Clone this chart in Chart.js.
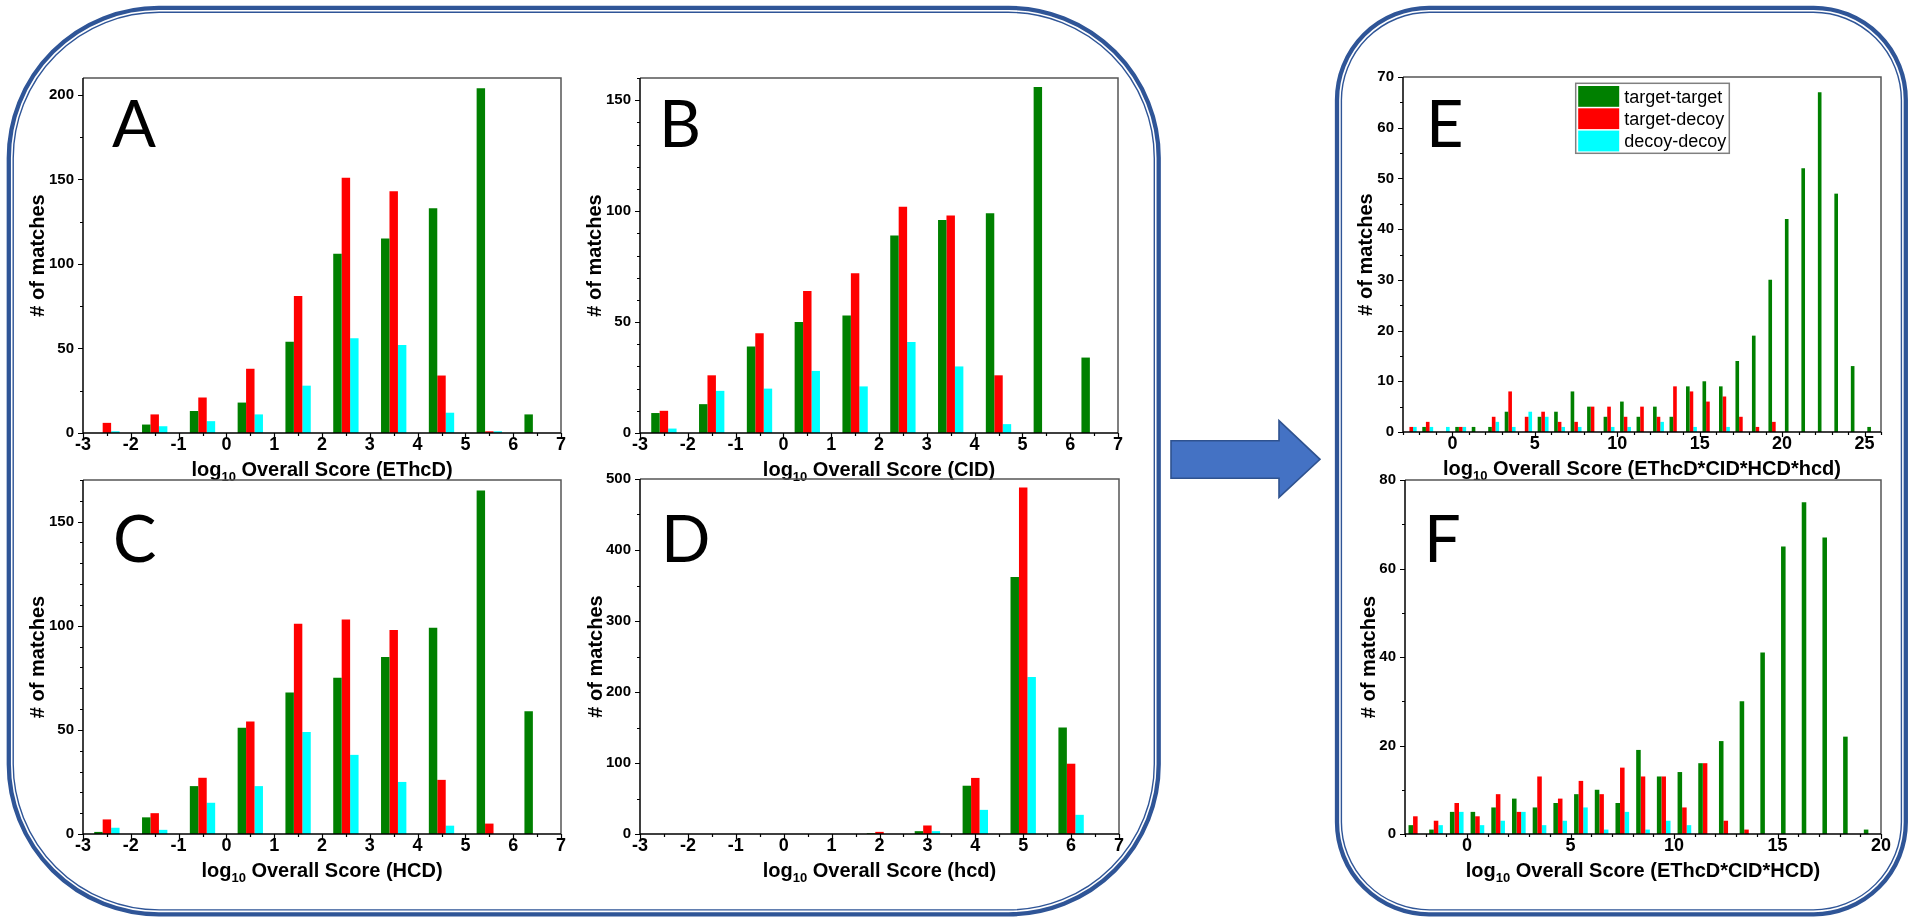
<!DOCTYPE html>
<html>
<head>
<meta charset="utf-8">
<title>Overall score histograms</title>
<script src="https://cdn.jsdelivr.net/npm/chart.js@4.4.0/dist/chart.umd.min.js"></script>
<style>
  html, body { margin: 0; padding: 0; background: #fff; }
  #page { position: relative; width: 1915px; height: 923px; overflow: hidden; }
  #page canvas { position: absolute; }
  #frames { position: absolute; left: 0; top: 0; }
</style>
</head>
<body>
<div id="page">
  <svg id="frames" width="1915" height="923">
    <g fill="none" stroke="#2F5597">
      <rect x="8.8" y="7.9" width="1149.9" height="906.4" rx="150" ry="150" stroke-width="4.3"/>
      <rect x="13.2" y="12.3" width="1141.1" height="897.6" rx="146" ry="146" stroke-width="1.4"/>
      <rect x="1337" y="7.9" width="568.8" height="906.4" rx="92" ry="92" stroke-width="4.3"/>
      <rect x="1341.4" y="12.3" width="560" height="897.6" rx="88" ry="88" stroke-width="1.4"/>
    </g>
    <polygon points="1171,440.7 1279,440.7 1279,420.7 1320,459.3 1279,497.3 1279,478.3 1171,478.3"
             fill="#4472C4" stroke="#2F528F" stroke-width="1.6"/>
  </svg>
</div>
<script>
/* ---------- data ---------- */
const seriesNames = ['target-target', 'target-decoy', 'decoy-decoy'];
const seriesColors = ['#008000', '#FF0000', '#00FFFF'];

// bin centres (log10 overall score)
const binsABC = [-2.5, -1.5, -0.5, 0.5, 1.5, 2.5, 3.5, 4.5, 5.5, 6.5];
const binsD = [2, 3, 4, 5, 6];
const binsE = [-2.5, -1.5, -0.5, 0.5, 1.5, 2.5, 3.5, 4.5, 5.5, 6.5, 7.5, 8.5, 9.5, 10.5, 11.5,
  12.5, 13.5, 14.5, 15.5, 16.5, 17.5, 18.5, 19.5, 20.5, 21.5, 22.5, 23.5, 24.5, 25.5];
const binsF = [-2.5, -1.5, -0.5, 0.5, 1.5, 2.5, 3.5, 4.5, 5.5, 6.5, 7.5, 8.5, 9.5, 10.5, 11.5,
  12.5, 13.5, 14.5, 15.5, 16.5, 17.5, 18.5, 19.5];

// A - EThcD
const aTT = [0, 5, 13, 18, 54, 106, 115, 133, 204, 11];
const aTD = [6, 11, 21, 38, 81, 151, 143, 34, 1, 0];
const aDD = [1, 4, 7, 11, 28, 56, 52, 12, 1, 0];
// B - CID
const bTT = [9, 13, 39, 50, 53, 89, 96, 99, 156, 34];
const bTD = [10, 26, 45, 64, 72, 102, 98, 26, 0, 0];
const bDD = [2, 19, 20, 28, 21, 41, 30, 4, 0, 0];
// C - HCD
const cTT = [1, 8, 23, 51, 68, 75, 85, 99, 165, 59];
const cTD = [7, 10, 27, 54, 101, 103, 98, 26, 5, 0];
const cDD = [3, 2, 15, 23, 49, 38, 25, 4, 0, 0];
// D - hcd
const dTT = [1, 4, 68, 362, 150];
const dTD = [3, 12, 79, 488, 99];
const dDD = [0, 4, 34, 221, 27];
// E - EThcD*CID*HCD*hcd
const eTT = [0, 1, 0, 1, 1, 1, 4, 0, 3, 4, 8, 5, 3, 6, 3, 5, 3, 9, 10, 9, 14, 19, 30, 42, 52, 67, 47, 13, 1];
const eTD = [1, 2, 0, 1, 0, 3, 8, 3, 4, 2, 2, 5, 5, 3, 5, 3, 9, 8, 6, 7, 3, 1, 2, 0, 0, 0, 0, 0, 0];
const eDD = [1, 1, 1, 1, 0, 2, 1, 4, 3, 1, 1, 0, 1, 1, 0, 2, 0, 1, 0, 1, 0, 0, 0, 0, 0, 0, 0, 0, 0];
// F - EThcD*CID*HCD
const fTT = [2, 1, 5, 5, 6, 8, 6, 7, 9, 10, 7, 19, 13, 14, 16, 21, 30, 41, 65, 75, 67, 22, 1];
const fTD = [4, 3, 7, 4, 9, 5, 13, 8, 12, 9, 15, 13, 13, 6, 16, 3, 1, 0, 0, 0, 0, 0, 0];
const fDD = [0, 2, 5, 2, 3, 5, 2, 3, 6, 1, 5, 1, 3, 2, 0, 0, 0, 0, 0, 0, 0, 0, 0];

// tick labels
const xTicksAD = [-3, -2, -1, 0, 1, 2, 3, 4, 5, 6, 7];
const xTicksE = [0, 5, 10, 15, 20, 25];
const xTicksF = [0, 5, 10, 15, 20];
const yTicksA = [0, 50, 100, 150, 200];
const yTicksB = [0, 50, 100, 150];
const yTicksC = [0, 50, 100, 150];
const yTicksD = [0, 100, 200, 300, 400, 500];
const yTicksE = [0, 10, 20, 30, 40, 50, 60, 70];
const yTicksF = [0, 20, 40, 60, 80];

/* ---------- layout ---------- */
const FONT = "'Liberation Sans', Arial, sans-serif";
const AXIS_W = 80, PAD_T = 20, PAD_R = 20, AXIS_H = 60;

const panels = [
  { id: 'A', bins: binsABC, vals: [aTT, aTD, aDD], xMin: -3, xMax: 7, yMax: 210, xTicks: xTicksAD, yTicks: yTicksA,
    xMinor: 0.5, yMinor: 25, label: 'EThcD', L: 83, R: 561, T: 78, B: 433, cat: 0.53, yOff: 46, lx: 112, ly: 146.7 },
  { id: 'B', bins: binsABC, vals: [bTT, bTD, bDD], xMin: -3, xMax: 7, yMax: 160, xTicks: xTicksAD, yTicks: yTicksB,
    xMinor: 0.5, yMinor: 10, label: 'CID', L: 640, R: 1118, T: 78, B: 433, cat: 0.53, yOff: 46.5, lx: 659, ly: 146.7 },
  { id: 'C', bins: binsABC, vals: [cTT, cTD, cDD], xMin: -3, xMax: 7, yMax: 170, xTicks: xTicksAD, yTicks: yTicksC,
    xMinor: 0.5, yMinor: 10, label: 'HCD', L: 83, R: 561, T: 480, B: 834, cat: 0.53, yOff: 46, lx: 113, ly: 561.7 },
  { id: 'D', bins: binsD, vals: [dTT, dTD, dDD], xMin: -3, xMax: 7, yMax: 500, xTicks: xTicksAD, yTicks: yTicksD,
    xMinor: 0.5, yMinor: 50, label: 'hcd', L: 640, R: 1119, T: 479, B: 834, cat: 0.53, yOff: 45, lx: 661, ly: 561.7 },
  { id: 'E', bins: binsE, vals: [eTT, eTD, eDD], xMin: -3, xMax: 26, yMax: 70, xTicks: xTicksE, yTicks: yTicksE,
    xMinor: 1, yMinor: 5, label: 'EThcD*CID*HCD*hcd', L: 1403, R: 1881, T: 77, B: 432, cat: 0.66, yOff: 38, lx: 1426, ly: 146.7,
    legend: true },
  { id: 'F', bins: binsF, vals: [fTT, fTD, fDD], xMin: -3, xMax: 20, yMax: 80, xTicks: xTicksF, yTicks: yTicksF,
    xMinor: 1, yMinor: 10, label: 'EThcD*CID*HCD', L: 1405, R: 1881, T: 480, B: 834, cat: 0.66, yOff: 37.5, lx: 1424, ly: 561.7 }
];

function tickList(min, max, step) {
  const n = Math.round((max - min) / step);
  const out = [];
  for (let i = 0; i <= n; i++) out.push(min + i * step);
  return out;
}

function makeDecor(p, cl, ct) {
  return {
    id: 'decor' + p.id,
    afterDatasetsDraw(chart) {
      const ctx = chart.ctx;
      const a = chart.chartArea;
      const xs = chart.scales.x, ys = chart.scales.y;
      ctx.save();

      // ticks (major + minor)
      ctx.strokeStyle = '#000';
      ctx.lineWidth = 1.2;
      ctx.beginPath();
      tickList(p.xMin, p.xMax, p.xMinor).forEach(v => {
        const x = Math.round(xs.getPixelForValue(v)) + 0.5;
        const major = p.xTicks.some(t => Math.abs(t - v) < 1e-6);
        ctx.moveTo(x, a.bottom);
        ctx.lineTo(x, a.bottom + (major ? 5 : 3));
      });
      tickList(0, p.yMax, p.yMinor).forEach(v => {
        if (v > p.yMax) return;
        const y = Math.round(ys.getPixelForValue(v)) + 0.5;
        const major = p.yTicks.includes(v);
        ctx.moveTo(a.left, y);
        ctx.lineTo(a.left - (major ? 5 : 3), y);
      });
      ctx.stroke();

      // plot frame
      ctx.lineWidth = 1.5;
      ctx.strokeStyle = '#555';
      ctx.beginPath();
      ctx.moveTo(a.left, a.top); ctx.lineTo(a.right, a.top); ctx.lineTo(a.right, a.bottom);
      ctx.stroke();
      ctx.strokeStyle = '#000';
      ctx.beginPath();
      ctx.moveTo(a.left, a.top); ctx.lineTo(a.left, a.bottom); ctx.lineTo(a.right, a.bottom);
      ctx.stroke();

      // panel letter
      ctx.fillStyle = '#000';
      ctx.textBaseline = 'alphabetic';
      ctx.textAlign = 'left';
      ctx.font = `400 65px Lato, ${FONT}`;
      ctx.fillText(p.id, p.lx - cl, p.ly - ct);

      // x title with subscript
      const big = `bold 20px ${FONT}`, small = `bold 13px ${FONT}`;
      const rest = ` Overall Score (${p.label})`;
      ctx.font = big;
      const w1 = ctx.measureText('log').width, w3 = ctx.measureText(rest).width;
      ctx.font = small;
      const w2 = ctx.measureText('10').width;
      let x0 = (a.left + a.right) / 2 - (w1 + w2 + w3) / 2;
      const by = a.bottom + 42.5;
      ctx.font = big; ctx.fillText('log', x0, by);
      ctx.font = small; ctx.fillText('10', x0 + w1, by + 5);
      ctx.font = big; ctx.fillText(rest, x0 + w1 + w2, by);

      // y title
      ctx.save();
      ctx.translate(a.left - p.yOff + 7, (a.top + a.bottom) / 2);
      ctx.rotate(-Math.PI / 2);
      ctx.textAlign = 'center';
      ctx.font = big;
      ctx.fillText('# of matches', 0, 0);
      ctx.restore();

      // legend (panel E only)
      if (p.legend) {
        const bx = 1575.7 - cl, byy = 83.3 - ct;
        ctx.fillStyle = '#fff';
        ctx.fillRect(bx, byy, 153.6, 70);
        ctx.strokeStyle = '#808080';
        ctx.lineWidth = 1.5;
        ctx.strokeRect(bx, byy, 153.6, 70);
        ctx.font = `18px ${FONT}`;
        chart.data.datasets.forEach((ds, i) => {
          const ry = byy + 2.7 + i * 22.3;
          ctx.fillStyle = ds.backgroundColor;
          ctx.fillRect(bx + 2.5, ry, 41, 20.8);
          ctx.fillStyle = '#000';
          ctx.fillText(ds.label, bx + 48.5, ry + 10.4 + 6.3);
        });
      }
      ctx.restore();
    }
  };
}

const page = document.getElementById('page');

panels.forEach(p => {
  const cl = p.L - AXIS_W, ct = p.T - PAD_T;
  const cv = document.createElement('canvas');
  cv.width = p.R - p.L + AXIS_W + PAD_R;
  cv.height = p.B - p.T + PAD_T + AXIS_H;
  cv.style.left = cl + 'px';
  cv.style.top = ct + 'px';
  page.appendChild(cv);

  new Chart(cv, {
    type: 'bar',
    data: {
      datasets: p.vals.map((vals, i) => ({
        label: seriesNames[i],
        data: p.bins.map((b, j) => ({ x: b, y: vals[j] })),
        backgroundColor: seriesColors[i],
        borderWidth: 0,
        barPercentage: 1,
        categoryPercentage: p.cat
      }))
    },
    options: {
      responsive: false,
      animation: false,
      devicePixelRatio: 1,
      layout: { padding: { left: 0, top: PAD_T, right: PAD_R, bottom: 0 } },
      plugins: { legend: { display: false }, tooltip: { enabled: false } },
      scales: {
        x: {
          type: 'linear', min: p.xMin, max: p.xMax, offset: false,
          grid: { display: false, drawTicks: false },
          border: { display: false },
          ticks: { color: '#000', font: { family: FONT, size: 18, weight: 'bold' }, padding: 1, autoSkip: false, maxRotation: 0 },
          afterBuildTicks: s => { s.ticks = p.xTicks.map(v => ({ value: v })); },
          afterFit: s => { s.height = AXIS_H; }
        },
        y: {
          min: 0, max: p.yMax,
          grid: { display: false, drawTicks: false },
          border: { display: false },
          ticks: { color: '#000', font: { family: FONT, size: 15, weight: 'bold' }, padding: 9, autoSkip: false },
          afterBuildTicks: s => { s.ticks = p.yTicks.map(v => ({ value: v })); },
          afterFit: s => { s.width = AXIS_W; }
        }
      }
    },
    plugins: [makeDecor(p, cl, ct)]
  });
});
</script>
</body>
</html>
